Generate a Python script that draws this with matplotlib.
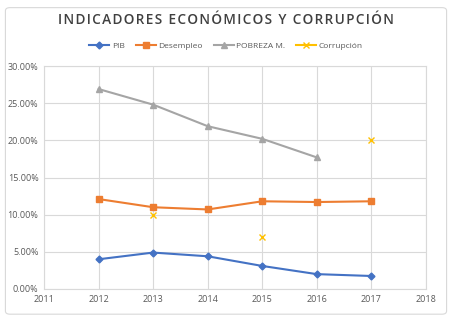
import matplotlib
matplotlib.use("Agg")
import matplotlib.pyplot as plt
from matplotlib.ticker import PercentFormatter, MultipleLocator
from matplotlib.patches import FancyBboxPatch
from matplotlib.lines import Line2D

years = [2012, 2013, 2014, 2015, 2016, 2017]
pib = [4.0, 4.9, 4.4, 3.1, 2.0, 1.75]
desempleo = [12.1, 11.0, 10.7, 11.8, 11.7, 11.8]
pobreza_years = [2012, 2013, 2014, 2015, 2016]
pobreza = [26.9, 24.8, 21.9, 20.2, 17.7]
corr_years = [2013, 2015, 2017]
corrupcion = [10.0, 7.0, 20.0]

plt.rcParams['font.family'] = ['Open Sans', 'DejaVu Sans']

fig = plt.figure(figsize=(4.52, 3.18), dpi=100)
fig.patch.set_facecolor('white')
border = FancyBboxPatch((0.012, 0.012), 0.976, 0.964, boxstyle="round,pad=0,rounding_size=0.01",
                        transform=fig.transFigure, fill=False, edgecolor='#d9d9d9', linewidth=0.8)
fig.patches.append(border)

ax = fig.add_axes([44/452, 1-289/318, (426-44)/452, (289-66)/318])
l1, = ax.plot(years, pib, color='#4472c4', marker='D', markersize=3.5, linewidth=1.5, label='PIB')
l2, = ax.plot(years, desempleo, color='#ed7d31', marker='s', markersize=4, linewidth=1.5, label='Desempleo')
l3, = ax.plot(pobreza_years, pobreza, color='#a5a5a5', marker='^', markersize=4.5, linewidth=1.5, label='POBREZA M.')
ax.plot(corr_years, corrupcion, color='#ffc000', marker='x', markersize=5, linewidth=0,
        markeredgewidth=1.0, label='Corrupción')
l4 = Line2D([], [], color='#ffc000', marker='x', markersize=5, linewidth=1.5, markeredgewidth=1.0)

ax.set_xlim(2011, 2018)
ax.set_ylim(0, 30)
ax.xaxis.set_major_locator(MultipleLocator(1))
ax.yaxis.set_major_locator(MultipleLocator(5))
ax.yaxis.set_major_formatter(PercentFormatter(decimals=2))
ax.grid(True, color='#d9d9d9', linewidth=0.8)
ax.set_axisbelow(True)
for s in ax.spines.values():
    s.set_color('#d9d9d9')
    s.set_linewidth(0.8)
ax.tick_params(length=0, labelsize=6.5, colors='#595959', pad=4)

title = 'INDICADORES ECONÓMICOS Y CORRUPCIÓN'
spaced = '\u200a'.join(title)
fig.text(0.5, 1-20/318, spaced, ha='center', va='center',
         fontsize=9.8, color='#404040', fontweight='semibold')
fig.legend([l1, l2, l3, l4], ['PIB', 'Desempleo', 'POBREZA M.', 'Corrupción'],
           loc='center', bbox_to_anchor=(0.5, 1-46/318), ncol=4, frameon=False, fontsize=6,
           handlelength=2.4, columnspacing=1.3, handletextpad=0.3, labelcolor='#595959')

fig.savefig('out.png', dpi=100, facecolor='white')
